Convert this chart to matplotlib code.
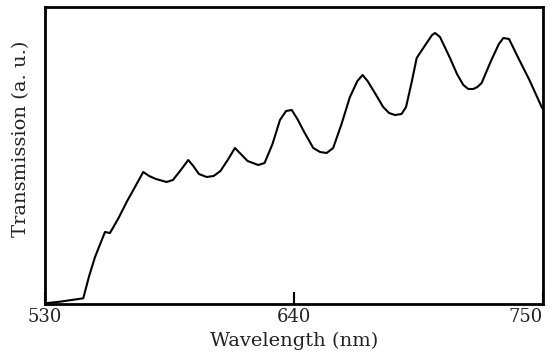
import matplotlib
matplotlib.use("Agg")
import matplotlib.pyplot as plt

wavelength = [530, 536.6, 546.9, 549.5, 552.1, 556.5, 558.7, 562.5, 566.3, 570.0,
              573.4, 576.0, 579.0, 583.7, 586.5, 590.0, 593.3, 595.5, 598.0, 601.4,
              604.5, 607.5, 611.0, 613.9, 616.5, 619.5, 624.2, 627.0, 630.5, 633.8,
              636.5, 639.0, 641.5, 644.5, 648.5, 651.5, 654.4, 657.3, 661.0, 664.7,
              668.0, 670.3, 672.5, 676.0, 679.4, 682.0, 684.6, 687.5, 689.5, 692.0,
              694.2, 698.0, 701.0, 702.3, 704.5, 708.9, 712.0, 714.8, 717.0, 719.2,
              721.0, 722.9, 727.0, 730.5, 732.5, 735.0, 739.1, 744.0, 749.4, 750]
transmission = [0.7, 2.3, 5.7, 28, 47, 72, 71, 86, 103, 118,
                132, 128, 125, 122, 124, 134, 144, 138, 130, 127,
                128, 133, 145, 156, 150, 143, 139, 141, 160, 184,
                193, 194, 185, 172, 156, 152, 151, 156, 180, 207,
                223, 229, 223, 210, 197, 191, 189, 190, 197, 222,
                246, 259, 269, 271, 267, 246, 230, 219, 215, 215,
                217, 221, 243, 260, 266, 265, 246, 224, 197, 195]

xticks = [530, 640, 750]
xticklabels = ["530", "640", "750"]

serif = ["DejaVu Serif"]

fig = plt.figure(figsize=(5.51, 3.58), dpi=100)
ax = fig.add_axes([45/551, (358-304)/358, 498/551, 297/358])
ax.plot(wavelength, transmission, color="black", linewidth=1.5,
        solid_joinstyle="round")
ax.set_xlim(530, 750)
ax.set_ylim(0, 297)
for s in ax.spines.values():
    s.set_linewidth(2.0)
ax.set_yticks([])
ax.set_xticks(xticks)
ax.set_xticklabels(xticklabels, family=serif, fontsize=13, color="#222222")
labs = ax.get_xticklabels()
labs[-1].set_horizontalalignment("right")
labs[-1].set_x(750)
ax.tick_params(axis="x", direction="in", length=9, width=1.5, pad=3)
ax.set_xlabel("Wavelength (nm)", family=serif, fontsize=14, color="#222222", labelpad=4)
ax.set_ylabel("Transmission (a. u.)", family=serif, fontsize=14, color="#222222")
ax.yaxis.set_label_coords(-0.030, 0.556)
fig.savefig("out.png", dpi=100)
